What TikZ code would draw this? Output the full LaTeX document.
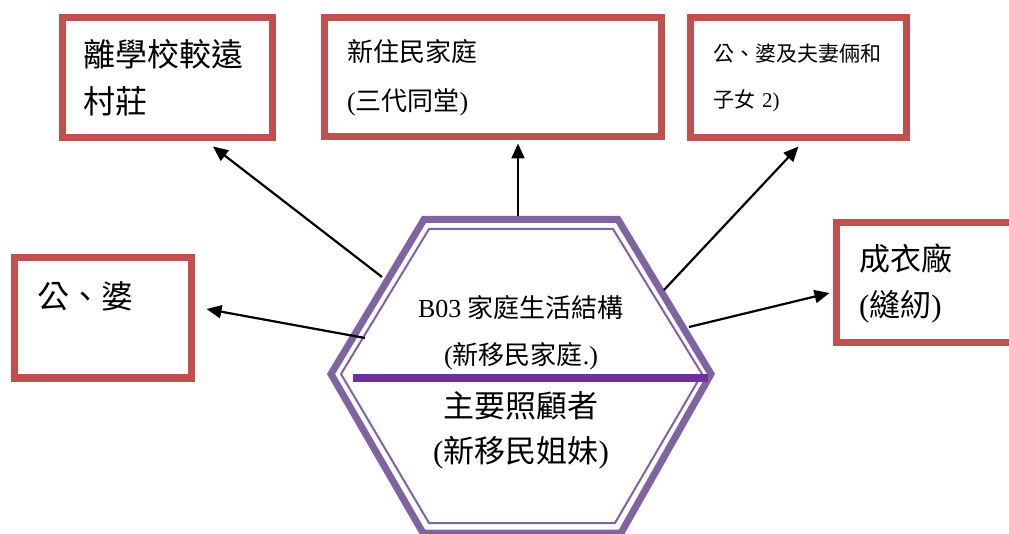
\documentclass[tikz,border=0pt]{standalone}
\usepackage{fontspec}
\setmainfont{Liberation Serif}
\newfontfamily\cjk{Noto Sans CJK TC}
\newcommand{\zh}[1]{{\cjk #1}}
\usepackage{tikz}
\usetikzlibrary{calc, arrows.meta, positioning}

\begin{document}
\begin{tikzpicture}[x=1pt, y=-1pt,
    redbox/.style={draw=boxred, fill=white, line width=7pt, rectangle, minimum height=120pt, inner xsep=22.5pt, align=left},
    arr/.style={-{Triangle[length=15pt,width=13pt]}, line width=2.2pt, black},
    hexthick/.style={draw=hexpurple, line width=7pt, line join=miter},
    hexthin/.style={draw=hexpurple, line width=2pt, line join=miter}]
        \definecolor{boxred}{RGB}{192, 80, 77}
        \definecolor{hexpurple}{RGB}{128, 100, 162}
        \definecolor{darkpurple}{RGB}{112, 48, 160}
        \useasboundingbox (0,0) rectangle (1009,534);
        \fill[white] (0,0) rectangle (1009,534);
        \clip (0,0) rectangle (1009,534);

        \node[redbox, minimum width=210pt, text width=168pt, inner xsep=21pt, font=\fontsize{32}{47}\selectfont] (farschool) at (167,78) {\zh{離學校較遠}\\\zh{村莊}};
        \node[redbox, minimum width=337pt, minimum height=119pt, text width=292pt, font=\fontsize{26}{49}\selectfont] (family) at (493,77.5) {\zh{新住民家庭}\\(\zh{三代同堂})};
        \node[redbox, minimum width=216pt, text width=171pt, font=\fontsize{21}{46}\selectfont] (relatives) at (798.5,78) {\zh{公、婆及夫妻倆和}\\\zh{子女} 2)};
        \node[redbox, minimum width=177pt, text width=132pt, font=\fontsize{32}{46}\selectfont] (inlaws) at (103,318) {\zh{公、婆}\\\mbox{}};
        \node[redbox, minimum width=220pt, text width=175pt, font=\fontsize{31}{46}\selectfont] (factory) at (946.5,283) {\zh{成衣廠}\\(\zh{縫紉})};

        \draw[hexthick] (424,219.5) -- (618,219.5) -- (711,374) -- (621,533) -- (423,533) -- (331,374) -- cycle;
        \draw[hexthin] (429,229) -- (613,229) -- (702,374) -- (615,523) -- (429,523) -- (341,374) -- cycle;
        \draw[darkpurple, line width=7pt] (353,378) -- (708,378);

        \node[font=\fontsize{26}{47}\selectfont, align=center] (structure) at (521,333) {B03 \zh{家庭生活結構}\\(\zh{新移民家庭}.)};
        \node[font=\fontsize{31}{45}\selectfont, align=center] (carer) at (521,430) {\zh{主要照顧者}\\(\zh{新移民姐妹})};

        \coordinate (s1) at (382,277);
        \coordinate (s2) at (365,338);
        \coordinate (s3) at (518,216);
        \coordinate (s4) at (664,290);
        \coordinate (s5) at (689,327);

        \draw[arr] (s1) -- ([xshift=46pt,yshift=-5pt]farschool.south);
        \draw[arr] (s2) -- ([xshift=11.5pt,yshift=9pt]inlaws.east);
        \draw[arr] (s3) -- ([xshift=25pt,yshift=-3pt]family.south);
        \draw[arr] (s4) -- ([yshift=-5pt]relatives.south);
        \draw[arr] (s5) -- ([xshift=-3.5pt,yshift=-10pt]factory.west);
    \end{tikzpicture}
\end{document}
